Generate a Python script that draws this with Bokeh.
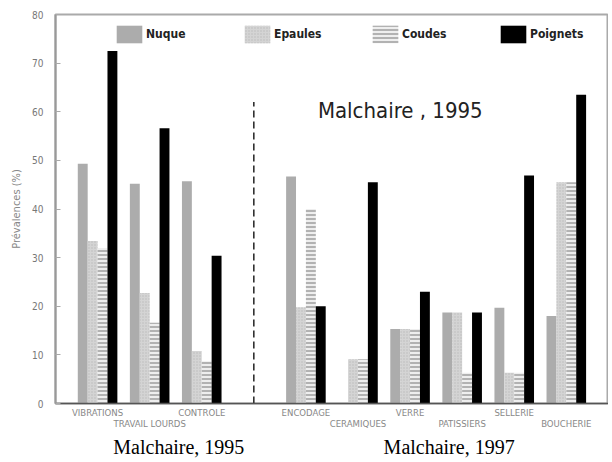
from bokeh.plotting import figure
from bokeh.models import (Range1d, FixedTicker, LinearAxis, Label, Legend,
                          LegendItem, ColumnDataSource)
from bokeh.transform import dodge
from bokeh.embed import file_html
from bokeh.resources import INLINE

# ---- data -------------------------------------------------------------
categories = ["VIBRATIONS", "TRAVAIL LOURDS", "CONTROLE", "",
              "ENCODAGE", "CERAMIQUES", "VERRE", "PATISSIERS",
              "SELLERIE", "BOUCHERIE"]
nuque    = [49.3, 45.2, 45.7, 0, 46.7, 0.0, 15.3, 18.7, 19.7, 18.0]
epaules  = [33.4, 22.7, 10.8, 0, 19.8, 9.1, 15.3, 18.7, 6.3, 45.5]
coudes   = [32.0, 16.6, 8.7, 0, 40.0, 9.1, 15.3, 6.3, 6.3, 45.5]
poignets = [72.5, 56.6, 30.4, 0, 20.0, 45.5, 23.0, 18.7, 46.9, 63.5]
series_names = ["Nuque", "Epaules", "Coudes", "Poignets"]
y_ticks = [0, 10, 20, 30, 40, 50, 60, 70, 80]
y_label = "Prévalences (%)"
inner_title = "Malchaire , 1995"
source_labels = ["Malchaire, 1995", "Malchaire, 1997"]
separator_top = 62

x = list(range(len(categories)))
src = ColumnDataSource(dict(x=x, nuque=nuque, epaules=epaules,
                            coudes=coudes, poignets=poignets))

NARROW = "Liberation Sans Narrow, DejaVu Sans Condensed, sans-serif"

p = figure(width=608, height=460, output_backend="svg", toolbar_location=None,
           x_range=Range1d(-0.808, 9.81), y_range=Range1d(0, 80),
           x_axis_type=None, min_border_left=55, min_border_top=14,
           min_border_right=0, min_border_bottom=0)
p.ygrid.grid_line_color = None
p.outline_line_color = "#aaaaaa"
p.outline_line_width = 2
p.background_fill_color = "white"

bw = 0.19
offs = [-1.5 * bw, -0.5 * bw, 0.5 * bw, 1.5 * bw]
r1 = p.vbar(x=dodge("x", offs[0], range=p.x_range), top="nuque", width=bw,
            source=src, fill_color="#acacac", line_color=None)
r2 = p.vbar(x=dodge("x", offs[1], range=p.x_range), top="epaules", width=bw,
            source=src, fill_color="#d4d4d4", line_color=None,
            hatch_pattern="dot", hatch_color="#bcbcbc", hatch_scale=3,
            hatch_weight=1)
r3 = p.vbar(x=dodge("x", offs[2], range=p.x_range), top="coudes", width=bw,
            source=src, fill_color="#eeeeee", line_color=None,
            hatch_pattern="horizontal_line", hatch_color="#b2b2b2",
            hatch_scale=4, hatch_weight=2)
r4 = p.vbar(x=dodge("x", offs[3], range=p.x_range), top="poignets", width=bw,
            source=src, fill_color="black", line_color=None)

sep = categories.index("")
p.segment(x0=[sep], y0=[0], x1=[sep], y1=[separator_top],
          line_color="#222222", line_width=1.5, line_dash="7 4")

p.add_layout(Label(x=4.23, y=60.3, text=inner_title, text_font=NARROW,
                   text_font_size="22px", text_baseline="middle",
                   text_color="#222222"))

legend = Legend(items=[LegendItem(label=n, renderers=[r])
                       for n, r in zip(series_names, [r1, r2, r3, r4])],
                orientation="horizontal", location=(58, 358),
                glyph_width=32, glyph_height=22, label_height=22,
                label_standoff=1, label_width=87, spacing=8, padding=0,
                margin=0, border_line_color=None, background_fill_alpha=0,
                label_text_font_style="bold", label_text_font_size="12px",
                label_text_font=NARROW, label_text_color="#222222")
p.add_layout(legend)

# y axis
ya = p.yaxis[0]
ya.ticker = FixedTicker(ticks=y_ticks)
ya.major_tick_in = 5
ya.major_tick_out = 0
ya.minor_tick_line_color = None
ya.major_tick_line_color = "#aaaaaa"
ya.axis_line_color = "#999999"
ya.axis_line_width = 2
ya.major_label_text_font_size = "10px"
ya.major_label_text_font = NARROW
ya.major_label_text_color = "#777777"
ya.major_label_standoff = 12
ya.axis_label = y_label
ya.axis_label_text_font_size = "11px"
ya.axis_label_text_font_style = "normal"
ya.axis_label_text_font = NARROW
ya.axis_label_text_color = "#888888"
ya.axis_label_standoff = 6

# x axes (staggered category labels)
even = [i for i in x if i % 2 == 0 and categories[i]]
odd = [i for i in x if i % 2 == 1 and categories[i]]

def cat_axis(ticks, line_color, standoff):
    ax = LinearAxis(ticker=FixedTicker(ticks=ticks),
                    major_label_overrides={i: categories[i] for i in ticks})
    ax.major_tick_in = 0
    ax.major_tick_out = 0
    ax.minor_tick_line_color = None
    ax.major_tick_line_color = None
    ax.axis_line_color = line_color
    ax.axis_line_width = 1.5
    ax.major_label_standoff = standoff
    ax.major_label_text_font_size = "9.5px"
    ax.major_label_text_font = NARROW
    ax.major_label_text_color = "#888888"
    return ax

p.add_layout(cat_axis(even, "#555555", 3), "below")
p.add_layout(cat_axis(odd, None, -3), "below")

src_pos = [1.56, 6.75]
ax3 = LinearAxis(ticker=FixedTicker(ticks=src_pos),
                 major_label_overrides=dict(zip(src_pos, source_labels)))
ax3.major_tick_in = 0
ax3.major_tick_out = 0
ax3.minor_tick_line_color = None
ax3.major_tick_line_color = None
ax3.axis_line_color = None
ax3.major_label_standoff = 4
ax3.major_label_text_font = "Liberation Serif"
ax3.major_label_text_font_size = "20px"
ax3.major_label_text_color = "black"
p.add_layout(ax3, "below")

open("out.html", "w").write(file_html(p, INLINE))
